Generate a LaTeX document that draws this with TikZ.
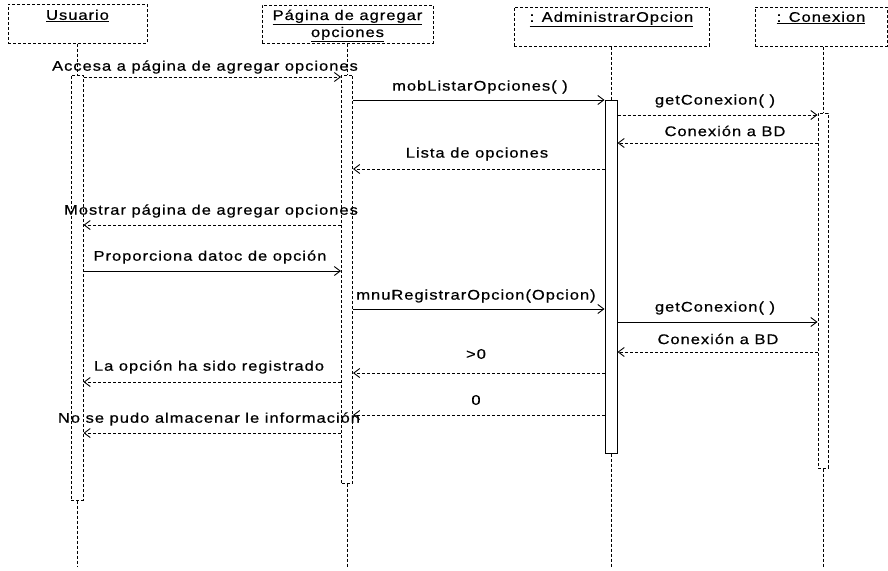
\documentclass[tikz,border=0pt]{standalone}
\usepackage{fontspec}
\setmainfont{Liberation Sans}[FakeStretch=1.18,LetterSpace=7,FakeBold=0.6]
\usetikzlibrary{arrows.meta}
\begin{document}
\begin{tikzpicture}[x=1pt,y=-1pt,
  font=\fontsize{14}{17}\selectfont,
  objbox/.style={draw, densely dashed, line width=1pt, inner sep=0pt},
  boxlabel/.style={anchor=north, inner sep=0pt, align=center},
  lifeline/.style={draw, dash pattern=on 3pt off 2pt, line width=1pt},
  actbar/.style={draw, fill=white, line width=1pt, inner sep=0pt, minimum width=12pt},
  dbar/.style={actbar, densely dashed},
  call/.style={line width=0.9pt, -{Straight Barb[length=6pt,width=9pt]}},
  reply/.style={call, dash pattern=on 3pt off 2pt},
  msg/.style={inner sep=0pt}]
\useasboundingbox (0,0) rectangle (888,570);
\coordinate (bottom) at (0,567);

% object boxes
\node[objbox, minimum width=139pt, minimum height=39pt] (usr) at (77.5,23.5) {};
\node[objbox, minimum width=171pt, minimum height=38pt] (pag) at (347.5,24) {};
\node[objbox, minimum width=195pt, minimum height=39pt] (adm) at (611.5,26.5) {};
\node[objbox, minimum width=132pt, minimum height=39pt] (cnx) at (821,26.5) {};
\node[boxlabel] (usrt) at ([yshift=-6pt]usr.north) {\underline{Usuario}};
\node[boxlabel] (pagt) at ([yshift=-5pt]pag.north) {\underline{Página de agregar}\\\underline{opciones}};
\node[boxlabel] (admt) at ([yshift=-5pt]adm.north) {\underline{: AdministrarOpcion}};
\node[boxlabel] (cnxt) at ([yshift=-5pt]cnx.north) {\underline{: Conexion}};

% activation bars
\node[dbar, minimum height=425pt] (ubar) at (77,287.5) {};
\node[dbar, minimum height=408pt, minimum width=11pt] (pbar) at (347,279) {};
\node[actbar, minimum height=353pt] (abar) at (611,276.5) {};
\node[dbar, minimum height=355pt, minimum width=10pt] (cbar) at (823,290.5) {};

% lifelines
\draw[lifeline] (usr.south -| ubar.north) -- (ubar.north);
\draw[lifeline] (pag.south -| pbar.north) -- (pbar.north);
\draw[lifeline] (adm.south -| abar.north) -- (abar.north);
\draw[lifeline] (cnx.south -| cbar.north) -- (cbar.north);
\draw[lifeline] (ubar.south) -- (ubar.south |- bottom);
\draw[lifeline] (pbar.south) -- (pbar.south |- bottom);
\draw[lifeline] (abar.south) -- (abar.south |- bottom);
\draw[lifeline] (cbar.south) -- (cbar.south |- bottom);

% message levels
\coordinate (m1) at (0,77);
\coordinate (m2) at (0,100);
\coordinate (m3) at (0,115);
\coordinate (m4) at (0,143);
\coordinate (m5) at (0,169);
\coordinate (m6) at (0,225);
\coordinate (m7) at (0,271);
\coordinate (m8) at (0,309);
\coordinate (m9) at (0,322);
\coordinate (m10) at (0,352);
\coordinate (m11) at (0,373);
\coordinate (m12) at (0,382);
\coordinate (m13) at (0,415);
\coordinate (m14) at (0,433);

% messages
\draw[reply] (ubar.east |- m1) -- (pbar.west |- m1);
\node[msg] (l1) at (205,67) {Accesa a página de agregar opciones};
\draw[call] (pbar.east |- m2) -- (abar.west |- m2);
\node[msg] (l2) at (480,87) {mobListarOpciones( )};
\draw[reply] (abar.east |- m3) -- (cbar.west |- m3);
\node[msg] (l3) at (715,101) {getConexion( )};
\draw[reply] (cbar.west |- m4) -- (abar.east |- m4);
\node[msg] (l4) at (725,131) {Conexión a BD};
\draw[reply] (abar.west |- m5) -- (pbar.east |- m5);
\node[msg] (l5) at (477,154) {Lista de opciones};
\draw[reply] (pbar.west |- m6) -- (ubar.east |- m6);
\node[msg] (l6) at (211,211) {Mostrar página de agregar opciones};
\draw[call] (ubar.east |- m7) -- (pbar.west |- m7);
\node[msg] (l7) at (210,257) {Proporciona datoc de opción};
\draw[call] (pbar.east |- m8) -- (abar.west |- m8);
\node[msg] (l8) at (476,296) {mnuRegistrarOpcion(Opcion)};
\draw[call] (abar.east |- m9) -- (cbar.west |- m9);
\node[msg] (l9) at (715,308) {getConexion( )};
\draw[reply] (cbar.west |- m10) -- (abar.east |- m10);
\node[msg] (l10) at (718,339) {Conexión a BD};
\draw[reply] (abar.west |- m11) -- (pbar.east |- m11);
\node[msg] (l11) at (476,354) {>0};
\draw[reply] (pbar.west |- m12) -- (ubar.east |- m12);
\node[msg] (l12) at (209,367) {La opción ha sido registrado};
\draw[reply] (abar.west |- m13) -- (pbar.east |- m13);
\node[msg] (l13) at (476,400) {0};
\draw[reply] (pbar.west |- m14) -- (ubar.east |- m14);
\node[msg] (l14) at (209,419) {No se pudo almacenar le información};
\end{tikzpicture}
\end{document}
